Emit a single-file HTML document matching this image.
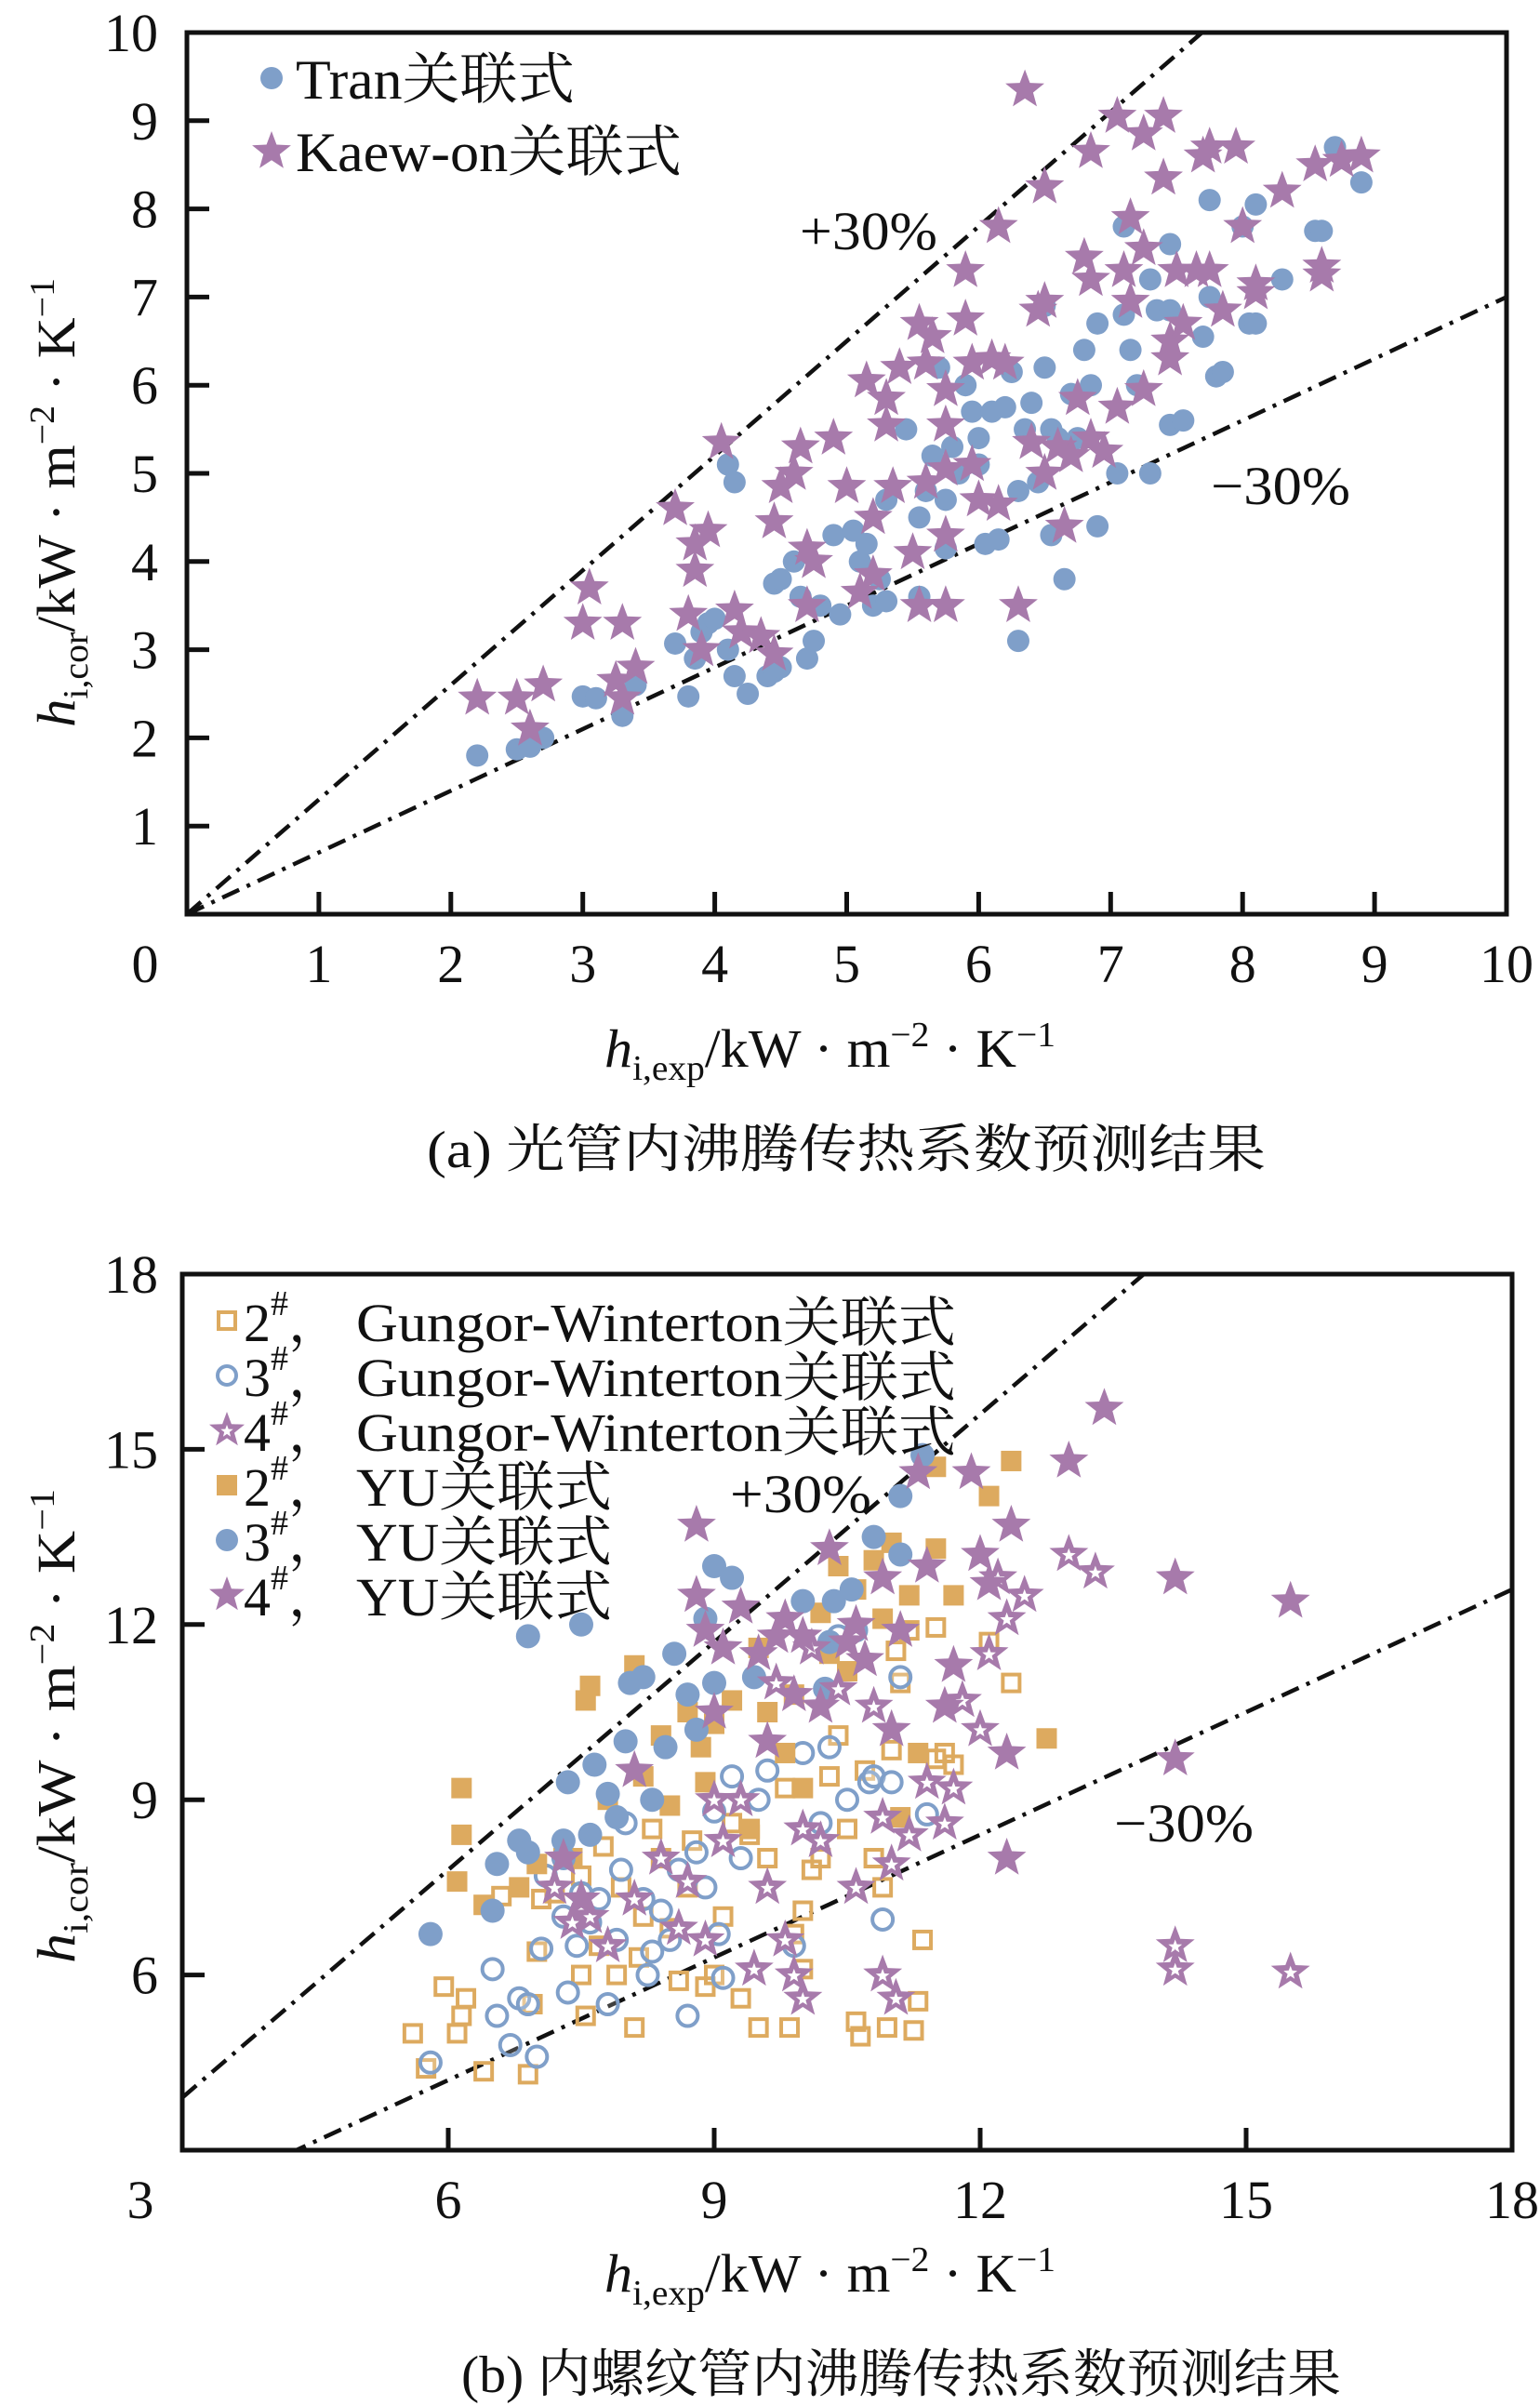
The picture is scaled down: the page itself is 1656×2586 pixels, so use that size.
<!DOCTYPE html>
<html><head><meta charset="utf-8"><style>
html,body{margin:0;padding:0;background:#fff}
svg{display:block}
text{font-family:"Liberation Serif","Noto Serif CJK SC","Noto Sans CJK SC",serif;fill:#111}
</style></head><body>
<svg id="fig" xmlns="http://www.w3.org/2000/svg" width="1656" height="2586" viewBox="0 0 1656 2586">
<g id="chartA"></g>
<g id="chartB"></g>
<g>
 <circle cx="292" cy="84" r="12" fill="#7f9fc9"/>
 <path id="lgStarA" fill="#a77aab"/>
 <text x="318" y="106" font-size="60" textLength="300" lengthAdjust="spacingAndGlyphs">Tran关联式</text>
 <text x="318" y="184" font-size="60" textLength="415" lengthAdjust="spacingAndGlyphs">Kaew-on关联式</text>
</g>
<text x="860" y="268" font-size="58" textLength="148" lengthAdjust="spacingAndGlyphs">+30%</text>
<text x="1302" y="542" font-size="58" textLength="150" lengthAdjust="spacingAndGlyphs">−30%</text>
<text x="650" y="1147" font-size="58" textLength="485" lengthAdjust="spacingAndGlyphs"><tspan font-style="italic">h</tspan><tspan font-size="38" dy="14">i,exp</tspan><tspan dy="-14">/kW · m</tspan><tspan font-size="38" dy="-22">−2</tspan><tspan dy="22"> · K</tspan><tspan font-size="38" dy="-22">−1</tspan></text>
<text x="459" y="1255" font-size="56" textLength="902" lengthAdjust="spacingAndGlyphs">(a) 光管内沸腾传热系数预测结果</text>
<text transform="translate(80,782) rotate(-90)" font-size="58" textLength="483" lengthAdjust="spacingAndGlyphs"><tspan font-style="italic">h</tspan><tspan font-size="38" dy="14">i,cor</tspan><tspan dy="-14">/kW · m</tspan><tspan font-size="38" dy="-22">−2</tspan><tspan dy="22"> · K</tspan><tspan font-size="38" dy="-22">−1</tspan></text>

<g id="legendB"></g>
<text x="785" y="1626" font-size="58" textLength="152" lengthAdjust="spacingAndGlyphs">+30%</text>
<text x="1198" y="1980" font-size="58" textLength="150" lengthAdjust="spacingAndGlyphs">−30%</text>
<text x="650" y="2464" font-size="58" textLength="485" lengthAdjust="spacingAndGlyphs"><tspan font-style="italic">h</tspan><tspan font-size="38" dy="14">i,exp</tspan><tspan dy="-14">/kW · m</tspan><tspan font-size="38" dy="-22">−2</tspan><tspan dy="22"> · K</tspan><tspan font-size="38" dy="-22">−1</tspan></text>
<text x="496" y="2572" font-size="56" textLength="946" lengthAdjust="spacingAndGlyphs">(b) 内螺纹管内沸腾传热系数预测结果</text>
<text transform="translate(80,2111) rotate(-90)" font-size="58" textLength="510" lengthAdjust="spacingAndGlyphs"><tspan font-style="italic">h</tspan><tspan font-size="38" dy="14">i,cor</tspan><tspan dy="-14">/kW · m</tspan><tspan font-size="38" dy="-22">−2</tspan><tspan dy="22"> · K</tspan><tspan font-size="38" dy="-22">−1</tspan></text>
</svg>
<script>
const ticksA=[0,1,2,3,4,5,6,7,8,9,10];
const ticksB=[3,6,9,12,15,18];
const tranX=[2.2,2.5,2.6,2.7,3.0,3.1,3.3,3.4,3.7,3.8,3.85,3.9,3.95,4.0,4.1,4.15,4.1,4.15,4.25,4.4,4.45,4.5,4.45,4.5,4.6,4.65,4.7,4.75,4.8,4.95,4.9,5.05,5.1,5.15,5.2,5.3,5.25,5.3,5.45,5.55,5.55,5.6,5.65,5.7,5.75,5.75,5.8,5.85,5.9,5.95,6.0,6.0,6.05,6.1,6.15,6.2,6.25,6.3,6.35,6.3,6.4,6.45,6.5,6.55,6.5,6.55,6.6,6.65,6.7,6.75,6.8,6.85,6.9,6.9,7.05,7.1,7.1,7.15,7.2,7.3,7.3,7.35,7.45,7.45,7.45,7.55,7.7,7.75,7.75,7.8,7.85,8.0,8.05,8.1,8.1,8.3,8.55,8.6,8.7,8.9];
const tranY=[1.8,1.87,1.9,2.0,2.47,2.45,2.25,2.6,3.07,2.47,2.9,3.2,3.3,3.35,5.1,4.9,3.0,2.7,2.5,2.7,2.75,2.8,3.75,3.8,4.0,3.6,2.9,3.1,3.5,3.4,4.3,4.35,4.0,4.2,3.5,3.55,3.8,4.7,5.5,3.6,4.5,4.8,5.2,6.2,4.15,4.7,5.3,5.0,6.0,5.7,5.4,5.1,4.2,5.7,4.25,5.75,6.15,4.8,5.5,3.1,5.8,4.9,6.9,5.5,6.2,4.3,5.4,3.8,5.9,5.4,6.4,6.0,6.7,4.4,5.0,7.8,6.8,6.4,6.0,5.0,7.2,6.85,7.6,6.85,5.55,5.6,6.55,7.0,8.1,6.1,6.15,7.8,6.7,6.7,8.05,7.2,7.75,7.75,8.7,8.3];
const kaewX=[2.2,2.5,2.6,2.7,3.0,3.05,3.25,3.3,3.3,3.4,3.7,3.8,3.85,3.85,3.9,3.95,4.05,4.15,4.2,4.35,4.45,4.45,4.5,4.6,4.65,4.7,4.75,4.7,4.9,5.0,5.1,5.15,5.2,5.2,5.3,5.35,5.3,5.4,5.5,5.55,5.55,5.6,5.65,5.6,5.75,5.75,5.75,5.75,5.75,5.9,5.9,5.95,5.95,6.0,6.1,6.15,6.2,6.15,6.3,6.35,6.4,6.45,6.5,6.5,6.5,6.6,6.65,6.7,6.75,6.8,6.85,6.85,6.85,6.95,7.05,7.05,7.1,7.15,7.15,7.25,7.25,7.25,7.4,7.4,7.45,7.45,7.5,7.55,7.65,7.7,7.75,7.75,7.85,7.95,8.0,8.1,8.1,8.3,8.55,8.6,8.6,8.75,8.9];
const kaewY=[2.45,2.45,2.1,2.6,3.3,3.7,2.65,3.3,2.45,2.8,4.6,3.4,4.2,3.9,3.0,4.35,5.35,3.45,3.2,3.15,2.95,4.45,4.85,5.0,5.3,3.5,4.0,4.15,5.4,4.85,3.65,6.05,4.5,3.85,5.85,4.85,5.55,6.2,4.1,3.5,6.7,6.25,6.55,4.9,5.95,5.55,4.3,3.5,5.05,7.3,6.75,6.25,5.1,4.7,6.3,4.65,6.25,7.8,3.5,9.35,5.35,6.85,8.25,6.95,5.0,5.3,4.4,5.2,5.85,7.45,8.65,7.2,5.4,5.25,9.05,5.75,7.3,7.9,6.95,8.85,7.55,5.95,8.35,9.05,6.3,6.5,7.3,6.7,7.3,8.6,7.3,8.7,6.85,8.7,7.8,7.15,7.05,8.2,8.5,7.35,7.25,8.55,8.6];
const gw2X=[5.6,5.75,5.95,6.1,6.15,6.2,6.4,6.6,6.9,6.95,7.0,7.05,7.2,7.3,7.5,7.5,7.55,7.7,7.75,7.9,7.95,8.1,8.15,8.2,8.4,8.5,8.6,8.7,8.75,8.9,9.0,9.1,9.2,9.3,9.5,9.6,9.8,9.85,9.9,10.0,10.0,10.2,10.3,10.4,10.5,10.6,10.65,10.7,10.8,10.9,10.95,11.0,11.05,11.1,11.2,11.25,11.3,11.35,11.5,11.5,11.7,12.1,12.35,8.3,9.4,10.1,11.6];
const gw2Y=[5.0,4.4,5.8,5.0,5.3,5.6,4.35,7.35,4.3,5.5,6.4,7.3,7.4,8.0,7.7,6.0,5.3,6.5,8.2,6.0,7.5,5.1,6.3,7.0,8.0,6.8,5.9,7.5,8.3,5.8,6.0,7.0,8.6,5.6,5.1,8.0,9.2,5.1,6.7,6.1,7.1,8.0,9.4,10.1,8.5,5.2,4.95,9.5,8.0,7.5,5.1,9.85,11.55,11.0,11.9,5.05,5.55,6.6,9.7,11.95,9.6,11.7,11.0,8.5,8.4,7.8,9.8];
const gw3X=[5.8,6.5,6.55,6.7,6.8,6.9,7.0,7.05,7.1,7.3,7.35,7.45,7.5,7.6,7.7,7.8,7.9,7.95,8.0,8.2,8.25,8.4,8.5,8.6,8.7,8.8,8.9,9.0,9.05,9.1,9.2,9.3,9.5,9.9,10.2,10.3,10.5,10.6,10.75,10.8,10.9,11.0,11.1,11.4,10.0,9.6,8.3,10.4];
const gw3Y=[4.5,6.1,5.3,4.8,5.6,5.5,4.6,6.45,7.7,7.0,5.7,6.5,7.4,6.9,7.3,5.5,6.6,7.8,8.6,7.3,6.0,7.1,6.6,7.8,5.3,8.1,7.5,8.8,6.7,5.95,9.4,8.0,9.0,6.5,8.6,9.9,9.0,11.9,9.3,9.4,6.95,9.3,11.1,8.75,9.8,9.5,6.4,11.8];
const gw4X=[7.2,7.4,7.6,7.8,8.1,8.4,8.6,8.7,8.9,9.0,9.1,9.3,9.45,9.6,9.8,9.9,10.0,10.0,10.2,10.4,10.6,10.8,10.9,10.9,11.0,11.05,11.2,11.4,11.6,11.7,11.8,12.0,12.1,12.3,12.5,13.0,13.3,14.2,14.2,15.5,12.2,9.7,10.1];
const gw4Y=[7.5,6.9,7.0,6.5,7.3,8.0,6.8,7.6,6.6,9.0,8.3,9.0,6.1,7.5,6.6,6.0,8.5,5.6,8.3,10.9,7.5,10.6,8.7,6.0,7.9,5.6,8.4,9.3,8.6,9.2,10.7,10.2,11.5,12.1,12.5,13.2,12.9,6.5,6.1,6.05,12.8,11.0,11.6];
const yu2X=[6.15,6.15,6.1,6.4,6.8,7.0,7.4,7.55,7.6,7.8,8.1,8.2,8.4,8.5,8.7,8.85,9.0,9.2,9.4,9.5,9.6,9.9,10.0,10.2,10.4,10.6,10.8,10.9,11.0,11.2,11.5,11.7,11.5,12.1,12.35,12.75,11.1,10.5,9.8,8.9,11.3,10.3];
const yu2Y=[9.2,8.4,7.6,7.2,7.5,7.9,8.0,10.7,10.95,9.0,11.3,9.4,10.1,8.9,10.5,9.9,10.3,10.7,8.5,11.6,10.5,10.8,9.2,12.2,13.0,12.6,13.1,12.1,13.4,12.5,13.3,12.5,14.7,14.2,14.8,10.05,8.7,11.2,9.8,9.3,9.8,11.5];
const yu3X=[5.8,6.5,6.55,6.8,6.9,6.9,7.3,7.35,7.5,7.6,7.65,7.8,7.9,8.0,8.05,8.2,8.3,8.45,8.55,8.7,8.8,8.9,9.0,9.0,9.2,9.45,10.0,10.25,10.35,10.55,10.8,11.1,11.35,11.1,10.3,7.3];
const yu3Y=[6.7,7.1,7.9,8.3,8.1,11.8,8.3,9.3,12.0,8.4,9.6,9.1,8.7,10.0,11.0,11.1,9.0,9.9,11.5,10.8,10.2,12.1,11.0,13.0,12.8,11.1,12.4,10.9,12.4,12.6,13.5,14.2,14.9,13.2,11.7,8.0];
const yu4X=[7.3,7.5,8.1,8.8,8.8,8.9,9.1,9.3,9.5,9.6,9.8,9.9,10.0,10.2,10.3,10.5,10.7,10.9,11.0,11.1,11.3,11.4,11.6,11.7,11.9,12.0,12.1,12.3,12.35,12.3,13.0,13.4,14.2,14.2,15.5,9.0,10.6,9.7];
const yu4Y=[8.0,7.3,9.5,13.7,12.5,11.9,11.6,12.3,11.5,10.0,12.1,10.8,11.8,10.6,13.3,11.7,11.4,12.8,10.2,11.9,14.6,13.0,10.6,11.3,14.6,13.2,12.7,9.8,13.7,8.0,14.8,15.7,12.8,9.7,12.4,10.5,12.0,11.8];

const NS="http://www.w3.org/2000/svg";
const BLUE="#7f9fc9",PURP="#a77aab",ORNG="#ddaa5f";
function mk(parent,tag,attrs){const e=document.createElementNS(NS,tag);for(const k in attrs)e.setAttribute(k,attrs[k]);parent.appendChild(e);return e;}
function starPath(cx,cy,R){const r=R*0.42;let d="";for(let i=0;i<10;i++){const a=-Math.PI/2+i*Math.PI/5;const rr=i%2?r:R;d+=(i?"L":"M")+(cx+rr*Math.cos(a)).toFixed(1)+","+(cy+rr*Math.sin(a)).toFixed(1);}return d+"Z";}
document.getElementById('lgStarA').setAttribute('d',starPath(292,163,22));

function chart(g,cfg){
  const sx=v=>cfg.L+(v-cfg.min)/(cfg.max-cfg.min)*(cfg.R-cfg.L);
  const sy=v=>cfg.B-(v-cfg.min)/(cfg.max-cfg.min)*(cfg.B-cfg.T);
  const clip="clip"+cfg.id;
  const cp=mk(g,"clipPath",{id:clip});mk(cp,"rect",{x:cfg.L,y:cfg.T,width:cfg.R-cfg.L,height:cfg.B-cfg.T});
  [1.3,0.7].forEach(k=>{
    const l=mk(g,"line",{x1:sx(cfg.min),y1:sy(cfg.min*k),x2:sx(cfg.max),y2:sy(cfg.max*k),stroke:"#111","stroke-width":4.5,"stroke-dasharray":"20 9 4 9","clip-path":"url(#"+clip+")"});
    
    
  });
  cfg.series.forEach(s=>{
    const sg=mk(g,"g",{});
    
    
    s.x.forEach((xv,i)=>{
      const cx=sx(xv),cy=sy(s.y[i]);let m;
      if(s.type==="circle") m=mk(sg,"circle",{cx:cx,cy:cy,r:s.size,fill:s.color});
      else if(s.type==="ocircle") m=mk(sg,"circle",{cx:cx,cy:cy,r:s.size,fill:"#fff","fill-opacity":0.2,stroke:s.color,"stroke-width":4});
      else if(s.type==="square") m=mk(sg,"rect",{x:cx-s.size,y:cy-s.size,width:2*s.size,height:2*s.size,fill:s.color});
      else if(s.type==="osquare") m=mk(sg,"rect",{x:cx-s.size+2,y:cy-s.size+2,width:2*s.size-4,height:2*s.size-4,fill:"none",stroke:s.color,"stroke-width":4});
      else if(s.type==="star") m=mk(sg,"path",{d:starPath(cx,cy,s.size),fill:s.color});
      else { m=mk(sg,"path",{d:starPath(cx,cy,s.size),fill:s.color}); mk(sg,"path",{d:starPath(cx,cy+1,s.size*0.35),fill:"#fff"}); }
      
      
    });
  });
  const fr=mk(g,"rect",{x:cfg.L,y:cfg.T,width:cfg.R-cfg.L,height:cfg.B-cfg.T,fill:"none",stroke:"#111","stroke-width":5});
  
  
  cfg.ticks.forEach(t=>{
    if(t>cfg.min&&t<cfg.max){
      const a=mk(g,"line",{x1:sx(t),y1:cfg.B,x2:sx(t),y2:cfg.B-24,stroke:"#111","stroke-width":5});
      
      
      const b=mk(g,"line",{x1:cfg.L,y1:sy(t),x2:cfg.L+24,y2:sy(t),stroke:"#111","stroke-width":5});
      
      
    }
    const lx=t===cfg.min?cfg.L-45:sx(t);
    const xl=mk(g,"text",{x:lx,y:cfg.B+73,"font-size":58,"text-anchor":"middle"});xl.textContent=String(t);
    
    
    if(t!==cfg.min){
      const yl=mk(g,"text",{x:170,y:sy(t)+20,"font-size":58,"text-anchor":"end"});yl.textContent=String(t);
      
      
    }
  });
}
chart(document.getElementById('chartA'),{id:"A",L:201,R:1620,T:35,B:983,min:0,max:10,ticks:ticksA,
  series:[{name:"tran-series",type:"circle",size:12,color:BLUE,x:tranX,y:tranY},
          {name:"kaew-on-series",type:"star",size:22,color:PURP,x:kaewX,y:kaewY}]});
chart(document.getElementById('chartB'),{id:"B",L:196,R:1626,T:1370,B:2312,min:3,max:18,ticks:ticksB,
  series:[{name:"gw-2-series",type:"osquare",size:11,color:ORNG,x:gw2X,y:gw2Y},
          {name:"gw-3-series",type:"ocircle",size:11,color:BLUE,x:gw3X,y:gw3Y},
          {name:"yu-2-series",type:"square",size:11,color:ORNG,x:yu2X,y:yu2Y},
          {name:"yu-3-series",type:"circle",size:13,color:BLUE,x:yu3X,y:yu3Y},
          {name:"gw-4-series",type:"ostar",size:22,color:PURP,x:gw4X,y:gw4Y},
          {name:"yu-4-series",type:"star",size:22,color:PURP,x:yu4X,y:yu4Y}]});
const lg=document.getElementById('legendB');
const legTypes=["osquare","ocircle","ostar","square","circle","star"];
const legNums=["2","3","4","2","3","4"];
const legNames=["Gungor-Winterton关联式","Gungor-Winterton关联式","Gungor-Winterton关联式","YU关联式","YU关联式","YU关联式"];
const legLens=[645,645,645,275,275,275];
const legCols=[ORNG,BLUE,PURP,ORNG,BLUE,PURP];
legTypes.forEach((t,i)=>{
  const cy=1420+i*59,cx=244;let m;
  if(t==="osquare") m=mk(lg,"rect",{x:cx-9,y:cy-9,width:18,height:18,fill:"none",stroke:legCols[i],"stroke-width":4});
  else if(t==="ocircle") m=mk(lg,"circle",{cx:cx,cy:cy,r:10,fill:"none",stroke:legCols[i],"stroke-width":4});
  else if(t==="square") m=mk(lg,"rect",{x:cx-11,y:cy-11,width:22,height:22,fill:legCols[i]});
  else if(t==="circle") m=mk(lg,"circle",{cx:cx,cy:cy,r:12,fill:legCols[i]});
  else { m=mk(lg,"path",{d:starPath(cx,cy,20),fill:legCols[i]}); if(t==="ostar") mk(lg,"path",{d:starPath(cx,cy+1,7),fill:"#fff"}); }
  
  
  const tx=mk(lg,"text",{x:262,y:cy+22,"font-size":58});
  
  
  tx.innerHTML=legNums[i]+'<tspan font-size="38" dy="-28">#</tspan><tspan dy="28">，</tspan>';
  const nm=mk(lg,"text",{x:383,y:cy+22,"font-size":58,textLength:legLens[i],lengthAdjust:"spacingAndGlyphs"});
  nm.textContent=legNames[i];
  
  
});
</script>
</body></html>
